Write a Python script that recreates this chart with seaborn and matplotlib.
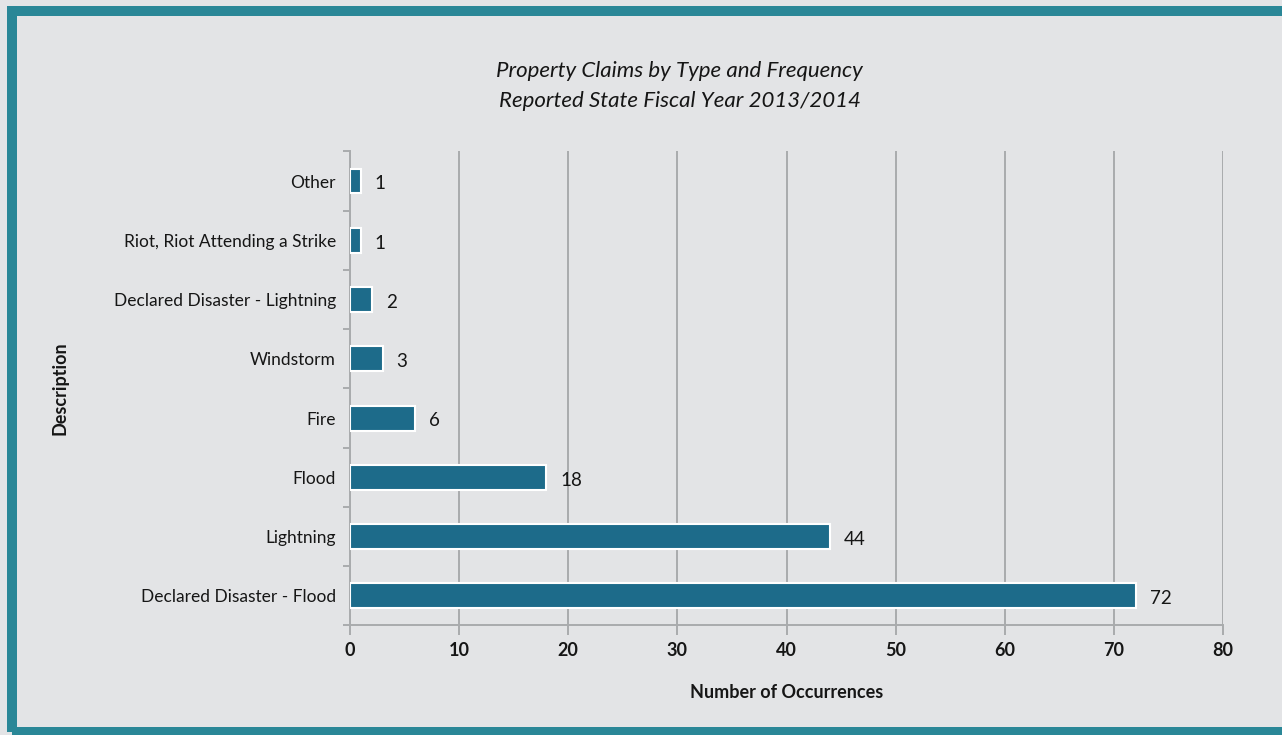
import matplotlib
matplotlib.use("Agg")
import matplotlib.pyplot as plt
from matplotlib.patches import Rectangle
import seaborn as sns
import pandas as pd

# Property claim categories and their counts
descriptions = [
    "Other",
    "Riot, Riot Attending a Strike",
    "Declared Disaster - Lightning",
    "Windstorm",
    "Fire",
    "Flood",
    "Lightning",
    "Declared Disaster - Flood",
]
occurrences = [1, 1, 2, 3, 6, 18, 44, 72]
x_ticks = [0, 10, 20, 30, 40, 50, 60, 70, 80]

df = pd.DataFrame({"Description": descriptions, "Occurrences": occurrences})

BG = "#e3e4e6"
BAR = "#1d6b8a"
FRAME = "#2a8797"
GRID = "#a9abad"
INK = "#161616"
FONT = ["Lato", "DejaVu Sans"]

sns.set_theme(style="white")
plt.rcParams["font.family"] = FONT

fig = plt.figure(figsize=(12.82, 7.35), dpi=100, facecolor=BG)
ax = fig.add_axes([0.273, 0.149, 0.681, 0.645])
ax.set_facecolor(BG)

sns.barplot(data=df, x="Occurrences", y="Description", orient="h",
            color=BAR, saturation=1, width=0.42, edgecolor="white",
            linewidth=1.5, ax=ax, zorder=3)

ax.set_xlim(0, 80)
ax.set_ylim(len(descriptions) - 0.5, -0.5)
ax.set_xticks(x_ticks)
ax.set_xticklabels([str(t) for t in x_ticks], fontsize=13, fontweight="bold",
                   color=INK)
ax.tick_params(axis="x", bottom=True, length=7, width=1.4, color=GRID, pad=5)
ax.tick_params(axis="y", which="major", left=False, length=0, pad=10)
for lab in ax.get_yticklabels():
    lab.set_fontsize(12.5)
    lab.set_color(INK)

# Boundary ticks between categories on the left axis
ax.set_yticks([i - 0.5 for i in range(len(descriptions) + 1)], minor=True)
ax.tick_params(axis="y", which="minor", left=True, length=5, width=1.4,
               color=GRID)

ax.grid(axis="x", color=GRID, linewidth=1.4, zorder=0)
for side in ("top", "right"):
    ax.spines[side].set_visible(False)
for side in ("left", "bottom"):
    ax.spines[side].set_color(GRID)
    ax.spines[side].set_linewidth(1.4)

for i, v in enumerate(occurrences):
    ax.annotate(str(v), xy=(v, i), xytext=(10, -2), textcoords="offset points",
                va="center", ha="left", fontsize=13.5, color=INK)

ax.set_xlabel("Number of Occurrences", fontsize=13, fontweight="bold",
              labelpad=18, color=INK)
ax.set_ylabel("Description", fontsize=13, fontweight="bold", color=INK)
ax.yaxis.set_label_coords(-0.322, 0.5)

fig.text(0.53, 0.903, "Property Claims by Type and Frequency", ha="center",
         va="center", fontsize=16, fontstyle="italic", color=INK)
fig.text(0.53, 0.862, "Reported State Fiscal Year 2013/2014", ha="center",
         va="center", fontsize=16, fontstyle="italic", color=INK)

# Teal frame around the chart panel
fig.patches.append(Rectangle((12 / 1282, 3 / 735), 1.2, 721 / 735,
                             transform=fig.transFigure, fill=False,
                             edgecolor=FRAME, linewidth=7.2, zorder=10))

fig.savefig("out.png", dpi=100, facecolor=BG)
